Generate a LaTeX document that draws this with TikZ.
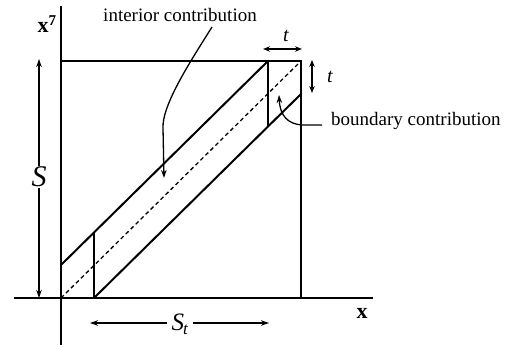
\documentclass[tikz,border=0pt]{standalone}
\usepackage{fontspec}
\setmainfont{Liberation Serif}
\usetikzlibrary{arrows.meta}
\begin{document}
\begin{tikzpicture}[x=1pt,y=-1pt,
  axis/.style={line width=1.8pt},
  band/.style={line width=2pt},
  diag/.style={line width=1.3pt,dash pattern=on 4pt off 3pt},
  arr/.style={line width=1.3pt,-{Stealth[length=8pt,width=5.5pt]}},
  darr/.style={line width=1.3pt,{Stealth[length=7pt,width=5.5pt]}-{Stealth[length=7pt,width=5.5pt]}},
  lbl/.style={inner sep=0pt,font=\fontsize{19}{22}\selectfont},
  big/.style={inner sep=1pt,font=\fontsize{30}{32}\selectfont\itshape}]
\useasboundingbox (0,0) rectangle (505,347);
% frame coordinates
\coordinate (O) at (61,298);
\coordinate (vtop) at (61,6);
\coordinate (vbot) at (61,345);
\coordinate (hleft) at (14,298);
\coordinate (hright) at (373,298);
\coordinate (TL) at (61,61);
\coordinate (TR) at (301,61);
\coordinate (BR) at (301,298);
% band coordinates
\coordinate (A1) at (61,265);
\coordinate (A2) at (268,61);
\coordinate (B1) at (94,298);
\coordinate (B2) at (301,94);
\coordinate (L2) at (94,232);
\coordinate (R2) at (268,127);
% axes and square
\draw[axis] (vtop) -- (vbot);
\draw[axis] (hleft) -- (hright);
\draw[axis] (TL) -- (TR) -- (BR);
% band
\draw[band] (A1) -- (A2);
\draw[band] (B1) -- (B2);
\draw[band] (B1) -- (L2);
\draw[band] (A2) -- (R2);
\draw[diag] (O) -- (TR);
% labels
\node[lbl,font=\fontsize{22}{24}\selectfont\bfseries] (xs) at (47,24) {x\textsuperscript{\fontsize{15}{16}\selectfont 7}};
\node[lbl,font=\fontsize{22}{24}\selectfont\bfseries] (xl) at (362,313) {x};
\node[lbl] (ic) at (180,15) {interior contribution};
\node[lbl,anchor=west] (bc) at (331,121) {boundary contribution};
% interior arrow
\coordinate (ic1) at (212,27);
\coordinate (ic2) at (164,178);
\draw[arr] (ic1) .. controls (190,62) and (162,105) .. (163,128) -- (ic2);
% boundary arrow
\coordinate (bc1) at (322,125);
\coordinate (bc2) at (279,95);
\draw[arr] (bc1) -- (302,125) .. controls (288,124) and (280,116) .. (bc2);
% S arrow
\node[big] (S) at (39,177) {S};
\coordinate (Stop) at (39,59);
\coordinate (Sbot) at (39,298);
\draw[arr] (S.north) -- (Stop);
\draw[arr] (S.south) -- (Sbot);
% S_t arrow
\node[big,font=\fontsize{25}{27}\selectfont\itshape] (St) at (180,324) {S\kern-1pt\textsubscript{\fontsize{17}{18}\selectfont t}};
\coordinate (Stl) at (90,323);
\coordinate (Str) at (269,323);
\draw[arr] (St.west) ++(-3,-1) -- (Stl);
\draw[arr] (St.east) ++(3,-1) -- (Str);
% t arrows
\coordinate (th1) at (263,49);
\coordinate (th2) at (302,49);
\draw[darr] (th1) -- (th2);
\node[lbl,font=\fontsize{20}{22}\selectfont\itshape] (tt) at (286,36) {t};
\coordinate (tv1) at (312,60);
\coordinate (tv2) at (312,93);
\draw[darr] (tv1) -- (tv2);
\node[lbl,font=\fontsize{20}{22}\selectfont\itshape] (tr) at (330,77) {t};
\end{tikzpicture}
\end{document}
